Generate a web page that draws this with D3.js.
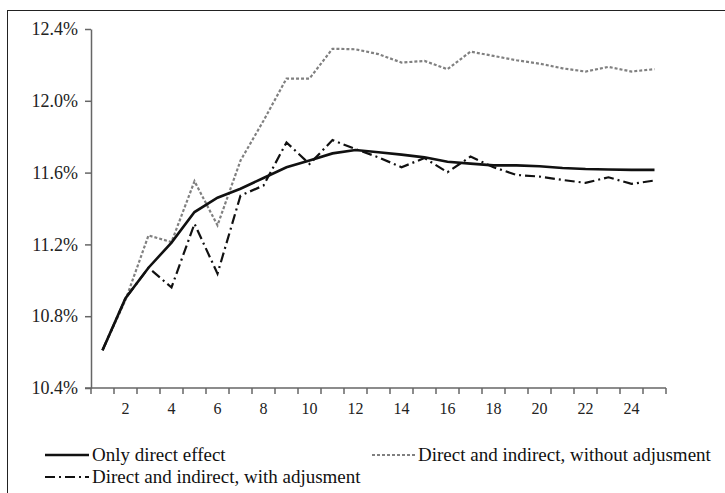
<!DOCTYPE html>
<html><head><meta charset="utf-8">
<script src="https://cdn.jsdelivr.net/npm/d3@7/dist/d3.min.js"></script>
<style>body{margin:0;background:#fff}svg{display:block}text{font-family:"Liberation Serif","Times New Roman",serif}</style>
</head><body>
<script>
const periods = d3.range(1, 26);
const directOnly = [10.61,10.90,11.07,11.21,11.38,11.46,11.51,11.57,11.63,11.667,11.707,11.726,11.713,11.70,11.685,11.66,11.65,11.64,11.64,11.635,11.626,11.62,11.617,11.615,11.615];
const withAdj = [10.61,10.90,11.07,10.96,11.315,11.037,11.472,11.528,11.768,11.648,11.781,11.731,11.685,11.63,11.681,11.602,11.689,11.63,11.587,11.578,11.559,11.543,11.574,11.537,11.556];
const withoutAdj = [10.61,10.89,11.25,11.213,11.552,11.306,11.667,11.889,12.124,12.124,12.29,12.287,12.26,12.213,12.222,12.176,12.274,12.25,12.226,12.207,12.181,12.163,12.189,12.163,12.176];
const yTicks = [10.4,10.8,11.2,11.6,12.0,12.4];
const xLabels = [2,4,6,8,10,12,14,16,18,20,22,24];
const seriesNames = ["Only direct effect","Direct and indirect, without adjusment","Direct and indirect, with adjusment"];

const W=725,H=493;
const svg=d3.select("body").append("svg").attr("width",W).attr("height",H);
svg.append("rect").attr("x",7.5).attr("y",10.5).attr("width",740).attr("height",500)
  .attr("fill","none").attr("stroke","#222").attr("stroke-width",1);

const x=d3.scaleBand().domain(periods).range([91,666]);
const y=d3.scaleLinear().domain([10.4,12.4]).range([388,29]);
const font='"Liberation Serif","Times New Roman",serif';

const gy=svg.append("g").attr("transform","translate(91,0)")
  .call(d3.axisLeft(y).tickValues(yTicks).tickFormat(d=>d.toFixed(1)+"%").tickSize(6).tickSizeOuter(0).tickPadding(7));
gy.attr("font-family",null).attr("font-size",null);
gy.select(".domain").attr("stroke","#666").attr("stroke-width",1.5);
gy.selectAll(".tick line").attr("stroke","#666").attr("stroke-width",1.5);
gy.selectAll("text").style("font-family",font).style("font-size","18px").attr("fill","#222");

const gx=svg.append("g").attr("transform","translate(0,388)");
gx.append("line").attr("x1",85).attr("x2",666).attr("y1",0).attr("y2",0).attr("stroke","#666").attr("stroke-width",1.5);
const bounds=periods.map(p=>x(p)).concat([x.range()[1]]);
gx.selectAll("line.t").data(bounds).enter().append("line").attr("class","t")
  .attr("x1",d=>d).attr("x2",d=>d).attr("y1",0).attr("y2",6).attr("stroke","#666").attr("stroke-width",1.5);
gx.selectAll("text").data(xLabels).enter().append("text")
  .attr("x",d=>x(d)+x.bandwidth()/2).attr("y",26).attr("text-anchor","middle")
  .style("font-family",font).style("font-size","16px").attr("fill","#222").text(d=>d);

const line=d3.line().x((d,i)=>x(periods[i])+x.bandwidth()/2).y(d=>y(d));
svg.append("path").datum(withoutAdj).attr("d",line).attr("fill","none").attr("stroke","#808080").attr("stroke-width",2.2).attr("stroke-dasharray","3,2");
svg.append("path").datum(withAdj).attr("d",line).attr("fill","none").attr("stroke","#111").attr("stroke-width",2.2).attr("stroke-dasharray","10,4,2,4");
svg.append("path").datum(directOnly).attr("d",line).attr("fill","none").attr("stroke","#111").attr("stroke-width",2.6);

const leg=svg.append("g");
const items=[
 {n:seriesNames[0],x:45,y:455,stroke:"#111",w:2.6,dash:null,len:44},
 {n:seriesNames[1],x:372,y:455,stroke:"#808080",w:2,dash:"3,2",len:43},
 {n:seriesNames[2],x:45,y:477,stroke:"#111",w:2.2,dash:"10,4,2,4",len:44}
];
items.forEach(it=>{
  leg.append("line").attr("x1",it.x).attr("x2",it.x+it.len).attr("y1",it.y).attr("y2",it.y)
    .attr("stroke",it.stroke).attr("stroke-width",it.w).attr("stroke-dasharray",it.dash);
  leg.append("text").attr("x",it.x+it.len+3).attr("y",it.y+6)
    .style("font-family",font).style("font-size","19px").attr("fill","#111").text(it.n);
});
</script>
</body></html>
